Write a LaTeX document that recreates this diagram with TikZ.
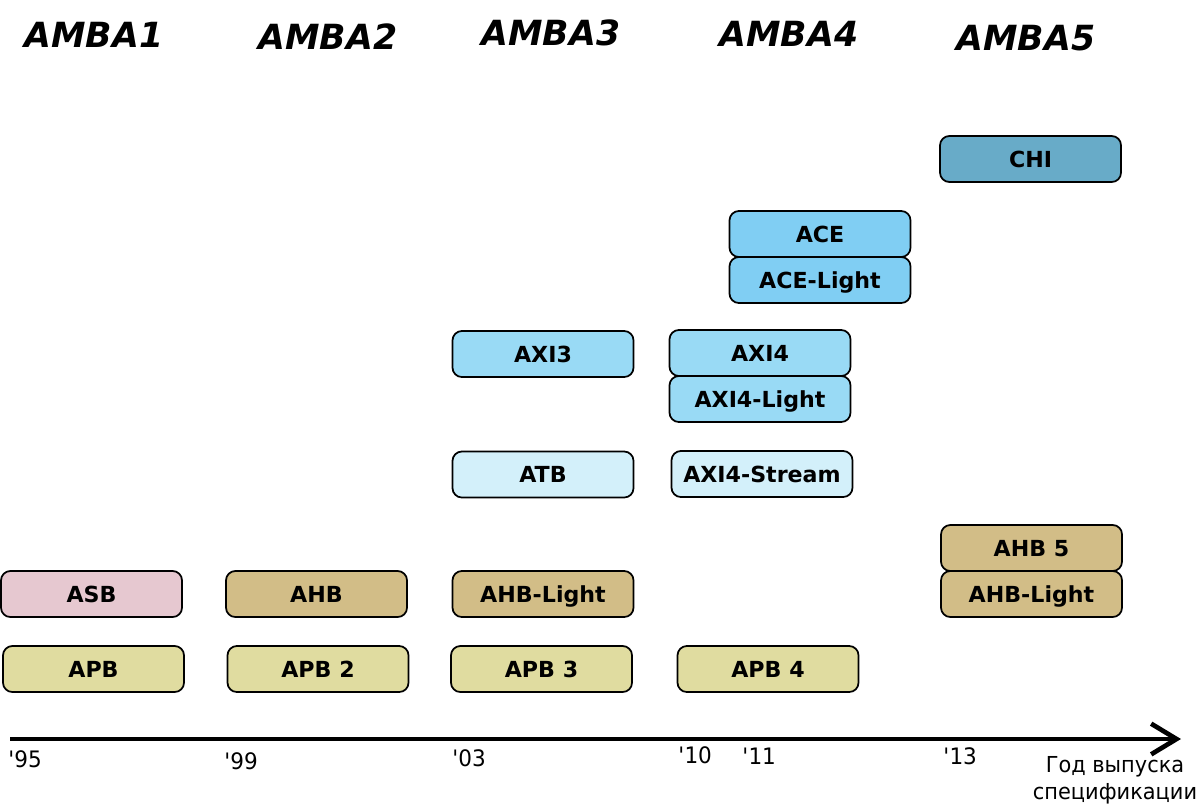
\documentclass[tikz,border=0pt]{standalone}
\usepackage{fontspec}
\setmainfont{DejaVu Sans}[BoldItalicFont={DejaVu Sans Bold Oblique}]
\newfontfamily\axisfont{DejaVu Sans}[FakeStretch=0.95]
\usepackage{tikz}
\usetikzlibrary{arrows.meta}

\definecolor{asbpink}{HTML}{E6C8D0}
\definecolor{ahbtan}{HTML}{D2BD87}
\definecolor{apbyellow}{HTML}{E0DCA0}
\definecolor{axiblue}{HTML}{99DAF5}
\definecolor{aceblue}{HTML}{80CEF3}
\definecolor{chiblue}{HTML}{68ABC8}
\definecolor{atbblue}{HTML}{D3F0FA}

\begin{document}
\begin{tikzpicture}[x=0.75pt, y=-0.75pt, node distance=34.5pt]
    \tikzstyle{spec} = [draw, line width=1.3pt, rounded corners=7pt,
	minimum width=135.75pt, minimum height=34.5pt, inner sep=0pt,
	text height=12pt, text depth=0pt,
	font=\fontsize{16.6}{19}\bfseries]
    \tikzstyle{gen} = [anchor=base, font=\fontsize{26}{31}\bfseries\itshape]
    \tikzstyle{year} = [anchor=base west, inner sep=0pt,
	font=\fontsize{17}{20.25}\axisfont]

	\useasboundingbox (0,0) rectangle (1198,803);

	% generations
	\path
		node[gen] (amba1) at (94,47) {AMBA1}
		node[gen] (amba2) at (328,49) {AMBA2}
		node[gen] (amba3) at (551,45) {AMBA3}
		node[gen] (amba4) at (789,46) {AMBA4}
		node[gen] (amba5) at (1026,50) {AMBA5};

	% interfaces
	\path
		node[spec, fill=asbpink] (asb) at (91.5,594) {ASB}
		node[spec, fill=apbyellow] (apb) at (93.5,669) {APB}

		node[spec, fill=ahbtan] (ahb) at (316.5,594) {AHB}
		node[spec, fill=apbyellow] (apb_2) at (318,669) {APB 2}

		node[spec, fill=axiblue] (axi3) at (543,354) {AXI3}
		node[spec, fill=atbblue] (atb) at (543,474.5) {ATB}
		node[spec, fill=ahbtan] (ahb_light) at (543,594) {AHB-Light}
		node[spec, fill=apbyellow] (apb_3) at (541.5,669) {APB 3}

		node[spec, fill=axiblue] (axi4) at (760,353) {AXI4}
		node[spec, fill=axiblue, below of=axi4] (axi4_light) {AXI4-Light}
		node[spec, fill=atbblue] (axi4_stream) at (762,474) {AXI4-Stream}
		node[spec, fill=apbyellow] (apb_4) at (768,669) {APB 4}

		node[spec, fill=aceblue] (ace) at (820,234) {ACE}
		node[spec, fill=aceblue, below of=ace] (ace_light) {ACE-Light}

		node[spec, fill=chiblue] (chi) at (1030.5,159) {CHI}
		node[spec, fill=ahbtan] (ahb_light_5) at (1031.5,594) {AHB-Light}
		node[spec, fill=ahbtan, above of=ahb_light_5] (ahb_5) {AHB 5};

	% time axis
	\coordinate (t_start) at (10,739);
	\coordinate (t_end) at (1181,739);
	\draw[line width=3.5pt,
		-{Straight Barb[length=19pt, width=23pt]}] (t_start) -- (t_end);

	\path
		node[year] (y_95) at (8,767) {\textquotesingle 95}
		node[year] (y_99) at (224,769) {\textquotesingle 99}
		node[year] (y_03) at (452,766) {\textquotesingle 03}
		node[year] (y_10) at (678,763) {\textquotesingle 10}
		node[year] (y_11) at (742,764) {\textquotesingle 11}
		node[year] (y_13) at (943,764) {\textquotesingle 13}
		node[font=\fontsize{16.5}{20.25}\axisfont, align=center]
			(t_label) at (1115,780) {Год выпуска\\спецификации};
\end{tikzpicture}
\end{document}
